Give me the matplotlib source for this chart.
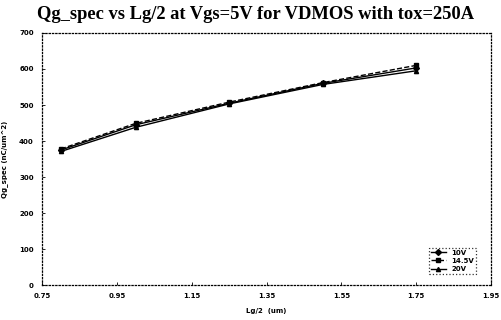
import numpy as np
import matplotlib.pyplot as plt

lg_half = [0.8, 1.0, 1.25, 1.5, 1.75]
qg_10v = [375, 445, 505, 560, 603]
qg_14v = [378, 449, 508, 562, 610]
qg_20v = [371, 438, 503, 557, 595]
xticks = [0.75, 0.95, 1.15, 1.35, 1.55, 1.75, 1.95]
yticks = [0, 100, 200, 300, 400, 500, 600, 700]

fig = plt.figure(figsize=(5.02, 3.2), dpi=100)
ax = fig.add_axes([0.084, 0.109, 0.894, 0.788])

ax.plot(lg_half, qg_10v, color="black", linestyle="-", marker="D", markersize=3, linewidth=1.0, label="10V")
ax.plot(lg_half, qg_14v, color="black", linestyle="--", marker="s", markersize=3, linewidth=1.0, label="14.5V")
ax.plot(lg_half, qg_20v, color="black", linestyle="-", marker="^", markersize=3, linewidth=1.0, label="20V")

ax.set_xlim(0.75, 1.95)
ax.set_ylim(0, 700)
ax.set_xticks(xticks)
ax.set_yticks(yticks)
ax.set_xticklabels(["%.2f" % v for v in xticks], fontsize=5, fontweight="bold")
ax.set_yticklabels([str(v) for v in yticks], fontsize=5, fontweight="bold")
ax.tick_params(direction="in", length=2, width=0.6, pad=6)

for s in ax.spines.values():
    s.set_linestyle(":")
    s.set_linewidth(0.9)

fig.text(0.51, 0.955, "Qg_spec vs Lg/2 at Vgs=5V for VDMOS with tox=250A",
         ha="center", va="center", fontsize=13.3, fontweight="bold",
         family="Liberation Serif")
ax.set_xlabel("Lg/2  (um)", fontsize=5, fontweight="bold", labelpad=6)
ax.set_ylabel("Qg_spec (nC/um^2)", fontsize=5, fontweight="bold", labelpad=8)

leg = ax.legend(loc="lower right", prop={"weight": "bold", "size": 5},
                fancybox=False, edgecolor="black", handlelength=2.2,
                borderpad=0.3, labelspacing=0.3, bbox_to_anchor=(0.975, 0.03))
leg.get_frame().set_linestyle(":")
leg.get_frame().set_linewidth(0.9)

fig.savefig("out.png", dpi=100)
